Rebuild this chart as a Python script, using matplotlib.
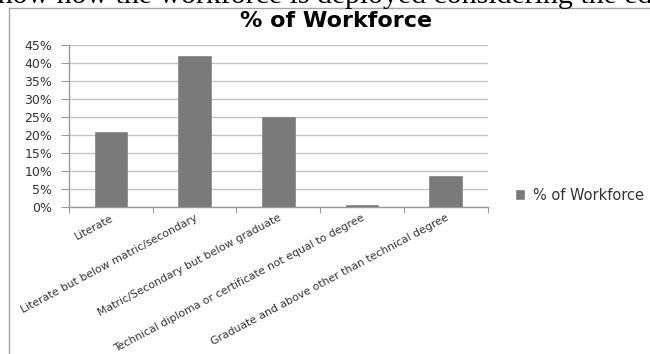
import matplotlib
matplotlib.use("Agg")
import matplotlib.pyplot as plt
from matplotlib.lines import Line2D
from matplotlib.transforms import Bbox, TransformedBbox
from matplotlib.ticker import FuncFormatter, FixedLocator

categories = [
    "Literate",
    "Literate but below matric/secondary",
    "Matric/Secondary but below graduate",
    "Technical diploma or certificate not equal to degree",
    "Graduate and above other than technical degree",
]
workforce_pct = [21.0, 42.0, 25.0, 0.7, 8.7]
series_name = "% of Workforce"
title = "% of Workforce"
y_ticks = [0, 5, 10, 15, 20, 25, 30, 35, 40, 45]
header_text = "show how the workforce is deployed considering the education"

W, H = 650, 354
fig = plt.figure(figsize=(W / 100, H / 100), dpi=100)
fig.patch.set_facecolor("white")

# document text cut at top
fig.text(-14 / W, 1 - 3 / H, header_text, family="Liberation Serif",
         fontsize=21.5, color="black", va="baseline", ha="left")

# chart frame (left and top edges visible)
frame_col = "#a6a6a6"
fig.add_artist(Line2D([9 / W, 9 / W], [0, 1 - 7.5 / H], transform=fig.transFigure,
                      color=frame_col, lw=1.0))
fig.add_artist(Line2D([9 / W, 1], [1 - 7.5 / H, 1 - 7.5 / H], transform=fig.transFigure,
                      color=frame_col, lw=1.0))

left, right, top, bottom = 69, 487.5, 45, 207.3
ax = fig.add_axes([left / W, 1 - bottom / H, (right - left) / W, (bottom - top) / H])

x = list(range(len(categories)))
ax.bar(x, [v / 100 for v in workforce_pct], width=0.39, color="#7a7a7a",
       edgecolor="#8c8c8c", linewidth=0.6, label=series_name, zorder=3)

ax.set_xlim(-0.5, len(categories) - 0.5)
ax.set_ylim(0, 0.45)
ax.set_yticks([t / 100 for t in y_ticks])
ax.yaxis.set_major_formatter(FuncFormatter(lambda v, p: f"{v * 100:.0f}%"))
ax.grid(axis="y", color="#c3c3c3", lw=1.0, zorder=0)
ax.set_axisbelow(True)

for s in ["top", "right"]:
    ax.spines[s].set_visible(False)
for s in ["left", "bottom"]:
    ax.spines[s].set_color("#9a9a9a")
    ax.spines[s].set_linewidth(1.0)

ax.tick_params(axis="y", length=6, width=0.8, color="#9a9a9a", labelsize=9,
               labelcolor="#333333", pad=6)
ax.set_xticks(x)
ax.set_xticklabels(categories, rotation=28, ha="right", rotation_mode="anchor",
                   fontsize=7.8, color="#333333")
ax.tick_params(axis="x", which="major", length=0, pad=4)
ax.xaxis.set_minor_locator(FixedLocator([i - 0.5 for i in range(len(categories) + 1)]))
ax.tick_params(axis="x", which="minor", length=4, width=0.8, color="#9a9a9a")

clip = TransformedBbox(Bbox([[10 / W, 0], [1, 1]]), fig.transFigure)
for t in ax.get_xticklabels():
    t.set_clip_box(clip)
    t.set_clip_on(True)

fig.text(336 / W, 1 - 21 / H, title, fontsize=16, fontweight="bold",
         ha="center", va="center", color="black")

leg = fig.legend(loc="center left", bbox_to_anchor=(516 / W, 1 - 195 / H),
                 frameon=False, fontsize=10.5, handlelength=0.55, handleheight=0.55,
                 handletextpad=0.6, borderpad=0, borderaxespad=0)
for txt in leg.get_texts():
    txt.set_color("#333333")

fig.savefig("out.png", dpi=100, facecolor="white")
